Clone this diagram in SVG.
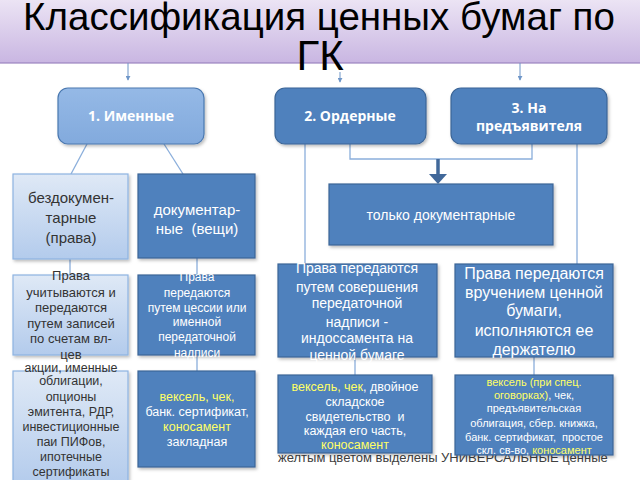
<svg xmlns="http://www.w3.org/2000/svg" width="640" height="480" viewBox="0 0 640 480">
<defs>
<linearGradient id="gTitle" x1="0" y1="0" x2="0" y2="1">
<stop offset="0" stop-color="#f1ebf7"/><stop offset="1" stop-color="#c9b6e2"/>
</linearGradient>
<linearGradient id="gLight" x1="0" y1="0" x2="0" y2="1">
<stop offset="0" stop-color="#dfe9f6"/><stop offset="1" stop-color="#b3cbec"/>
</linearGradient>
<linearGradient id="gMid" x1="0" y1="0" x2="0" y2="1">
<stop offset="0" stop-color="#95b9e6"/><stop offset="1" stop-color="#82aadd"/>
</linearGradient>
<filter id="sh" x="-10%" y="-10%" width="130%" height="130%">
<feDropShadow dx="1.5" dy="2" stdDeviation="1.5" flood-color="#000" flood-opacity="0.25"/>
</filter>
<marker id="ah" viewBox="0 0 6 6" refX="5" refY="3" markerWidth="5" markerHeight="5" orient="auto">
<path d="M0,0 L6,3 L0,6 z" fill="#6f96c8"/>
</marker>
</defs>
<style>
text{font-family:"Liberation Sans",Arial,sans-serif;text-anchor:middle}
.dark{fill:#4f81bd;stroke:#3b6597;stroke-width:1.2;filter:url(#sh)}
.light{fill:url(#gLight);stroke:#8db3e2;stroke-width:1.2;filter:url(#sh)}
.hdr{font-family:"Open Sans","Liberation Sans",sans-serif;font-weight:bold;font-size:14px;fill:#fff}
.w{fill:#fff}
.d{fill:#333}
.y{fill:#ffff66}
.con{stroke:#8aaedb;stroke-width:1.3;fill:none}
</style>

<text x="278" y="462" style="font-size:13px;fill:#404040;text-anchor:start">желтым цветом выделены УНИВЕРСАЛЬНЫЕ ценные</text>

<g id="title">
<rect x="-2" y="-10" width="644" height="73" fill="url(#gTitle)" stroke="#9b84c0" stroke-width="1.2"/>
<text x="319" y="30" style="font-size:38.5px;fill:#000">Классификация ценных бумаг по</text>
<text x="320" y="70" style="font-size:42px;fill:#000">ГК</text>
</g>

<g id="connectors">
<line x1="128" y1="63" x2="128" y2="80" stroke="#6f96c8" stroke-width="1" marker-end="url(#ah)"/>
<line x1="340" y1="72" x2="340" y2="82" stroke="#6f96c8" stroke-width="1" marker-end="url(#ah)"/>
<line x1="520" y1="63" x2="520" y2="80" stroke="#6f96c8" stroke-width="1" marker-end="url(#ah)"/>
<line class="con" x1="87" y1="144" x2="71" y2="174"/>
<line class="con" x1="164" y1="144" x2="183" y2="174"/>
<line class="con" x1="70" y1="259" x2="70" y2="275"/>
<line class="con" x1="197" y1="258" x2="197" y2="275"/>
<line class="con" x1="197" y1="355" x2="197" y2="371"/>
<line class="con" x1="305" y1="144" x2="305" y2="265"/>
<line class="con" x1="577" y1="144" x2="577" y2="265"/>
<polyline class="con" points="350,144 350,159 532,159 532,144"/>
<line x1="438" y1="159" x2="438" y2="175" stroke="#41689a" stroke-width="3.5"/>
<polygon points="429,174 447,174 438,184" fill="#41689a"/>
<line class="con" x1="355" y1="357" x2="355" y2="375"/>
<line class="con" x1="534" y1="357" x2="534" y2="375"/>
</g>

<g id="n-imennye">
<rect x="58" y="88" width="146" height="56" rx="10" fill="url(#gMid)" stroke="#4a78b0" stroke-width="1.2" filter="url(#sh)"/>
<text class="hdr" x="131" y="121">1. Именные</text>
</g>
<g id="n-ordernye">
<rect x="275" y="88" width="151" height="56" rx="10" fill="#4f81bd" stroke="#3b6597" stroke-width="1.2" filter="url(#sh)"/>
<text class="hdr" x="350" y="121">2. Ордерные</text>
</g>
<g id="n-predyav">
<rect x="451" y="88" width="156" height="56" rx="10" fill="#4f81bd" stroke="#3b6597" stroke-width="1.2" filter="url(#sh)"/>
<text class="hdr" x="529" y="113">3. На</text>
<text class="hdr" x="529" y="131">предъявителя</text>
</g>

<g id="n-bezdok">
<rect class="light" x="13" y="174" width="115" height="85"/>
<text class="d" style="font-size:15px" x="71" y="203">бездокумен-</text>
<text class="d" style="font-size:15px" x="71" y="223">тарные</text>
<text class="d" style="font-size:15px" x="71" y="243">(права)</text>
</g>
<g id="n-dok">
<rect class="dark" x="138" y="174" width="117" height="84"/>
<text class="w" style="font-size:15px" x="197" y="215">документар-</text>
<text class="w" style="font-size:15px" x="197" y="234" xml:space="preserve">ные  (вещи)</text>
</g>
<g id="n-tolko">
<rect class="dark" x="329" y="184" width="224" height="61"/>
<text class="w" style="font-size:14px" x="441" y="220">только документарные</text>
</g>

<g id="n-prava-uchet">
<rect class="light" x="13" y="275" width="115" height="80"/>
<g class="d" style="font-size:13px">
<text x="71" y="280">Права</text>
<text x="71" y="297">учитываются и</text>
<text x="71" y="312">передаются</text>
<text x="71" y="328">путем записей</text>
<text x="71" y="343">по счетам вл-</text>
<text x="71" y="359">цев</text>
</g>
</g>
<g id="n-akcii">
<rect class="light" x="13" y="371" width="115" height="115"/>
<g class="d" style="font-size:12.5px">
<text x="71" y="372">акции, именные</text>
<text x="71" y="385">облигации,</text>
<text x="71" y="401">опционы</text>
<text x="71" y="416">эмитента, РДР,</text>
<text x="71" y="431">инвестиционные</text>
<text x="71" y="446">паи ПИФов,</text>
<text x="71" y="461">ипотечные</text>
<text x="71" y="476">сертификаты</text>
</g>
</g>
<g id="n-cessia">
<rect class="dark" x="138" y="275" width="117" height="80"/>
<g class="w" style="font-size:12px">
<text x="197" y="281">Права</text>
<text x="197" y="297">передаются</text>
<text x="197" y="312">путем цессии или</text>
<text x="197" y="326">именной</text>
<text x="197" y="341">передаточной</text>
<text x="197" y="357">надписи</text>
</g>
</g>
<g id="n-veksel1">
<rect class="dark" x="138" y="371" width="117" height="96"/>
<g style="font-size:12.5px">
<text class="y" x="197" y="401">вексель, чек,</text>
<text class="w" x="197" y="416">банк. сертификат,</text>
<text class="y" x="197" y="431">коносамент</text>
<text class="w" x="197" y="446">закладная</text>
</g>
</g>

<g id="n-indossament">
<rect class="dark" x="278" y="264" width="159" height="93"/>
<g class="w" style="font-size:14px">
<text x="357" y="273">Права передаются</text>
<text x="357" y="292">путем совершения</text>
<text x="357" y="308">передаточной</text>
<text x="357" y="327">надписи  -</text>
<text x="357" y="343">индоссамента на</text>
<text x="357" y="360">ценной бумаге</text>
</g>
</g>
<g id="n-vruchenie">
<rect class="dark" x="455" y="264" width="158" height="93"/>
<g class="w" style="font-size:16px">
<text x="534" y="279">Права передаются</text>
<text x="534" y="298">вручением ценной</text>
<text x="534" y="316">бумаги,</text>
<text x="534" y="336">исполняются ее</text>
<text x="534" y="355">держателю</text>
</g>
</g>
<g id="n-veksel2">
<rect class="dark" x="278" y="375" width="154" height="78"/>
<g style="font-size:12.5px">
<text x="355" y="391"><tspan class="y">вексель, чек</tspan><tspan class="w">, двойное</tspan></text>
<text class="w" x="355" y="406">складское</text>
<text class="w" x="355" y="421" xml:space="preserve">свидетельство  и</text>
<text class="w" x="355" y="435">каждая его часть,</text>
<text class="y" x="355" y="449">коносамент</text>
</g>
</g>
<g id="n-veksel3">
<rect class="dark" x="455" y="375" width="158" height="80"/>
<g style="font-size:11px">
<text class="y" x="534" y="386">вексель (при спец.</text>
<text x="534" y="399"><tspan class="y">оговорках)</tspan><tspan class="w">, чек,</tspan></text>
<text class="w" x="534" y="412">предъявительская</text>
<text class="w" x="534" y="427">облигация, сбер. книжка,</text>
<text class="w" x="534" y="441" xml:space="preserve">банк. сертификат,  простое</text>
<text x="534" y="454"><tspan class="w">скл. св-во, </tspan><tspan class="y">коносамент</tspan></text>
</g>
</g>
</svg>
